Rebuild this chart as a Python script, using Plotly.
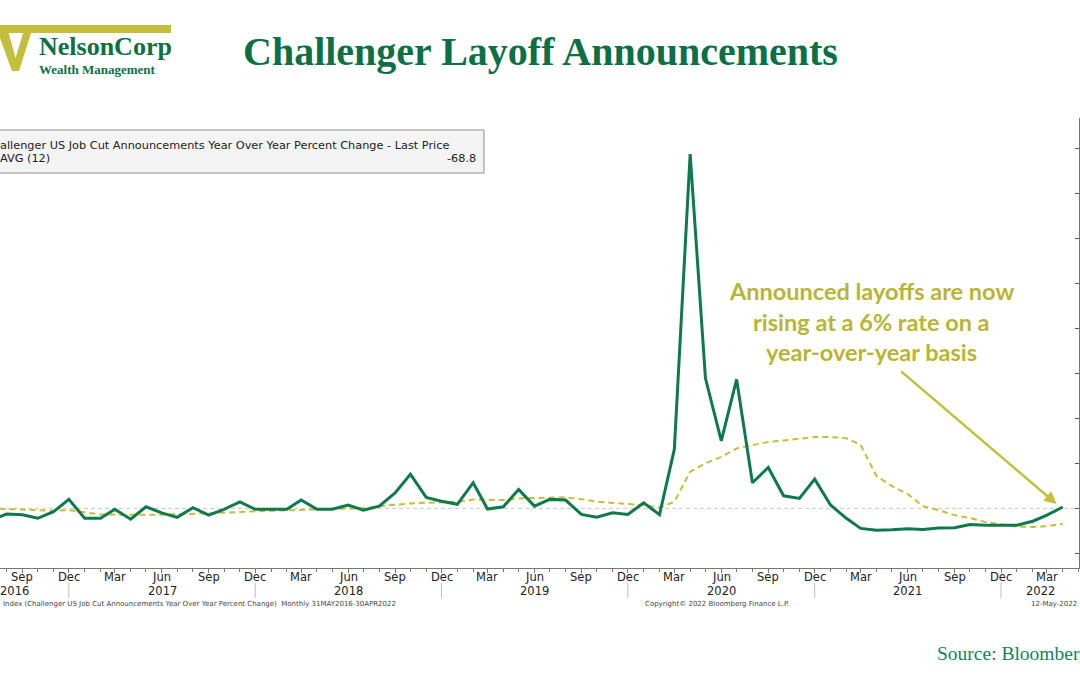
import pandas as pd
import plotly.graph_objects as go

# ---------------- data ----------------
months = pd.date_range("2016-05-01", "2022-04-01", freq="MS")

yoy_pct = [
    -27, -14, -53, -25, -28, -44, -15, 40,                      # 2016 May-Dec
    -44, -44, -4, -48, 7, -20, -40, 3, -30, -4, 29, -4,         # 2017
    -4, -4, 37, -4, -4, 15, -8, 10, 69, 152, 49, 32,            # 2018
    18, 114, -3, 7, 84, 10, 40, 37, -27, -39, -20, -27,         # 2019
    25, -28, 262, 1575, 578, 300, 573, 114, 182, 56, 44, 130,   # 2020
    15, -44, -89, -97, -95, -90, -94, -87, -86, -72, -75, -75,  # 2021
    -75, -57, -30, 6,                                           # 2022 Jan-Apr
]

mavg_12 = [
    3, 2, 0, -3, -5, -8, -11, -8,                               # 2016 May-Dec
    -16, -27, -28, -30, -29, -28, -27, -24, -22, -19, -15, -13, # 2017
    -11, -9, -8, -6, -4, -2, 1, 10, 17, 22, 25, 27,             # 2018
    29, 39, 37, 37, 44, 46, 48, 49, 41, 30, 24, 18,             # 2019
    15, 4, 29, 163, 200, 229, 266, 281, 295, 302, 308, 317,     # 2020
    317, 312, 282, 144, 99, 64, 10, -8, -30, -43, -61, -70,     # 2021
    -81, -83, -79, -69,                                         # 2022 Jan-Apr
]
last_avg_label = "-68.8"

tick_dates = ["2016-09-01", "2016-12-01", "2017-03-01", "2017-06-01", "2017-09-01",
              "2017-12-01", "2018-03-01", "2018-06-01", "2018-09-01", "2018-12-01",
              "2019-03-01", "2019-06-01", "2019-09-01", "2019-12-01", "2020-03-01",
              "2020-06-01", "2020-09-01", "2020-12-01", "2021-03-01", "2021-06-01",
              "2021-09-01", "2021-12-01", "2022-03-01"]
tick_text = ["Sep", "Dec", "Mar", "Jun", "Sep", "Dec", "Mar", "Jun", "Sep", "Dec",
             "Mar", "Jun", "Sep", "Dec", "Mar", "Jun", "Sep", "Dec", "Mar", "Jun",
             "Sep", "Dec", "Mar"]
years = ["2016", "2017", "2018", "2019", "2020", "2021", "2022"]
year_separators = ["2016-12-01", "2017-12-01", "2018-12-01", "2019-12-01",
                   "2020-12-01", "2021-12-01"]

x_range = [pd.Timestamp("2016-07-19 02:00"), pd.Timestamp("2022-05-02 17:00")]
y_range = [-265, 1735]

# ---------------- styles ----------------
W, H = 1080, 675
ML, MR, MT, MB = 0, 1, 118, 107
PW, PH = W - ML - MR, H - MT - MB

GREEN = "#0E7A4C"
OLIVE = "#C3BE3E"
OLIVE_TXT = "#B9B433"
TITLE_GREEN = "#0D6F44"


def px(x):
    return (x - ML) / PW


def py(y):
    return (H - MB - y) / PH


fig = go.Figure()

fig.add_trace(go.Scatter(
    x=months, y=mavg_12, mode="lines", name="SMAVG (12)",
    line=dict(color=OLIVE, width=2, dash="6px,4px"), showlegend=False,
))
fig.add_trace(go.Scatter(
    x=months, y=yoy_pct, mode="lines", name="Challenger YoY",
    line=dict(color=GREEN, width=3), showlegend=False,
))

shapes = []
# zero reference line
shapes.append(dict(type="line", xref="paper", yref="y", x0=0, x1=1, y0=0, y1=0,
                   line=dict(color="#c8c8c8", width=1, dash="4px,3px"), layer="below"))
# year separators below axis
for d in year_separators:
    shapes.append(dict(type="line", xref="x", yref="paper", x0=d, x1=d,
                       y0=py(598), y1=py(583), line=dict(color="#bdbdbd", width=1)))
# legend box
shapes.append(dict(type="rect", xref="paper", yref="paper",
                   x0=px(-6), x1=px(484), y0=py(173), y1=py(130),
                   fillcolor="#f4f4f4", line=dict(color="#8f8f8f", width=1)))
# logo: top bar and V shape
shapes.append(dict(type="rect", xref="paper", yref="paper",
                   x0=px(0), x1=px(171), y0=py(33), y1=py(25),
                   fillcolor=OLIVE, line=dict(width=0)))
vpts = [(0, 27), (7, 27), (15.5, 58), (25, 27), (33, 27), (19, 71), (12, 71), (0, 38)]
path = "M " + " L ".join(f"{px(a):.5f},{py(b):.5f}" for a, b in vpts) + " Z"
shapes.append(dict(type="path", xref="paper", yref="paper", path=path,
                   fillcolor=OLIVE, line=dict(width=0)))

annotations = []
AXFONT = dict(family="DejaVu Sans", size=11.5, color="#222")
# month labels
for d, t in zip(tick_dates, tick_text):
    annotations.append(dict(x=d, y=py(577), xref="x", yref="paper", text=t,
                            showarrow=False, xanchor="center", yanchor="middle",
                            font=AXFONT))
# year labels (centered between separators)
bounds = [months[0]] + [pd.Timestamp(d) for d in year_separators] + [x_range[1]]
for i, yr in enumerate(years):
    c = bounds[i] + (bounds[i + 1] - bounds[i]) / 2
    annotations.append(dict(x=c, y=py(591), xref="x", yref="paper", text=yr,
                            showarrow=False, xanchor="center", yanchor="middle",
                            font=AXFONT))

# title
annotations.append(dict(x=px(540), y=py(51), xref="paper", yref="paper",
                        text="<b>Challenger Layoff Announcements</b>", showarrow=False,
                        xanchor="center", yanchor="middle",
                        font=dict(family="Liberation Serif", size=40, color=TITLE_GREEN)))
# logo text
annotations.append(dict(x=px(37), y=py(47), xref="paper", yref="paper",
                        text="<b>NelsonCorp</b>", showarrow=False, xanchor="left",
                        yanchor="middle",
                        font=dict(family="Liberation Serif", size=26, color=TITLE_GREEN)))
annotations.append(dict(x=px(37), y=py(69), xref="paper", yref="paper",
                        text="<b>Wealth Management</b>", showarrow=False, xanchor="left",
                        yanchor="middle",
                        font=dict(family="Liberation Serif", size=13, color=TITLE_GREEN)))
# legend text
LFONT = dict(family="DejaVu Sans", size=11.3, color="#222")
annotations.append(dict(x=px(-17), y=py(145), xref="paper", yref="paper",
                        text="Challenger US Job Cut Announcements Year Over Year Percent Change - Last Price",
                        showarrow=False, xanchor="left", yanchor="middle", font=LFONT))
annotations.append(dict(x=px(-19), y=py(158), xref="paper", yref="paper",
                        text="SMAVG (12)", showarrow=False, xanchor="left",
                        yanchor="middle", font=LFONT))
annotations.append(dict(x=px(478), y=py(158), xref="paper", yref="paper",
                        text=last_avg_label, showarrow=False, xanchor="right",
                        yanchor="middle", font=LFONT))
# callout text
callout = ["Announced layoffs are now", "rising at a 6% rate on a", "year-over-year basis"]
for line, yy in zip(callout, [291, 322, 352]):
    annotations.append(dict(x=px(871), y=py(yy), xref="paper", yref="paper",
                            text=f"<b>{line}</b>", showarrow=False, xanchor="center",
                            yanchor="middle",
                            font=dict(family="Lato", size=23.5, color=OLIVE_TXT)))
# arrow
annotations.append(dict(x="2022-03-20", y=19, xref="x", yref="y", text="",
                        showarrow=True, ax=-157, ay=-134, arrowhead=2, arrowsize=1,
                        arrowwidth=2.5, arrowcolor=OLIVE))
# footer texts
FFONT = dict(family="DejaVu Sans", size=7, color="#444")
annotations.append(dict(x=px(1), y=py(604), xref="paper", yref="paper",
                        text="Index (Challenger US Job Cut Announcements Year Over Year Percent Change)  Monthly 31MAY2016-30APR2022",
                        showarrow=False, xanchor="left", yanchor="middle", font=FFONT))
annotations.append(dict(x=px(643), y=py(604), xref="paper", yref="paper",
                        text="Copyright© 2022 Bloomberg Finance L.P.", showarrow=False,
                        xanchor="left", yanchor="middle", font=FFONT))
annotations.append(dict(x=px(1029), y=py(604), xref="paper", yref="paper",
                        text="12-May-2022", showarrow=False, xanchor="left",
                        yanchor="middle", font=FFONT))
# source
annotations.append(dict(x=px(935), y=py(653), xref="paper", yref="paper",
                        text="Source: Bloomberg", showarrow=False, xanchor="left",
                        yanchor="middle",
                        font=dict(family="Liberation Serif", size=19.5, color="#15845A")))

fig.update_layout(
    width=W, height=H,
    margin=dict(l=ML, r=MR, t=MT, b=MB, pad=0),
    paper_bgcolor="white", plot_bgcolor="white",
    shapes=shapes, annotations=annotations, showlegend=False,
    xaxis=dict(
        type="date", range=x_range, showgrid=False, zeroline=False,
        showline=True, linecolor="#777", linewidth=1,
        tickmode="array", tickvals=tick_dates, ticktext=tick_text,
        ticks="outside", ticklen=4, tickcolor="#777", showticklabels=False,
        minor=dict(ticks="outside", ticklen=3, dtick="M1", tick0="2016-05-01",
                   tickcolor="#777", showgrid=False),
    ),
    yaxis=dict(
        range=y_range, side="right", showgrid=False, zeroline=False,
        showline=True, linecolor="#777", linewidth=1,
        tickmode="linear", tick0=0, dtick=200, ticks="inside", ticklen=4,
        tickcolor="#555", showticklabels=False,
    ),
)

fig.write_html("out.html")
